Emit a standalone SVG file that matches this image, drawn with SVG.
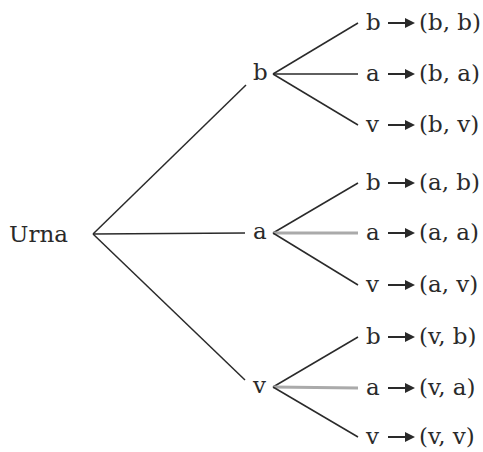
<svg xmlns="http://www.w3.org/2000/svg" width="483" height="452" viewBox="0 0 483 452">
<defs>
<style>
text{font-family:"DejaVu Serif","Liberation Serif",serif;font-size:23px;fill:#2a2a2a}
.e{stroke:#2a2a2a;stroke-width:1.5;fill:none}
.g{stroke:#aaaaaa;stroke-width:3;fill:none}
.ar{stroke:#2a2a2a;stroke-width:2;fill:none}
.ah{fill:#2a2a2a}
</style>
<g id="arw"><path class="ar" d="M0 0H19"/><path class="ah" d="M17 -5L27 0L17 5Z"/></g>
</defs>
<rect width="483" height="452" fill="#ffffff"/>
<g id="connectors">
<path class="e" d="M93 234L246 85"/>
<path class="e" d="M93 234L245 233"/>
<path class="e" d="M93 234L245 380"/>
<path class="e" d="M273 74L358 23"/>
<path class="e" d="M273 74L358 74"/>
<path class="e" d="M273 74L358 125"/>
<path class="e" d="M273 233L358 183"/>
<path class="g" d="M273 233L358 233"/>
<path class="e" d="M273 233L358 285"/>
<path class="e" d="M273 387L358 337"/>
<path class="g" d="M273 387L358 388"/>
<path class="e" d="M273 387L358 437"/>
</g>
<g id="root"><text x="9" y="242">Urna</text></g>
<g id="n-b"><text x="253" y="80">b</text></g>
<g id="n-a"><text x="253" y="239">a</text></g>
<g id="n-v"><text x="253" y="393">v</text></g>
<g id="leaf-bb"><text x="366" y="30">b</text><use href="#arw" x="388" y="23"/><text x="419" y="30">(b, b)</text></g>
<g id="leaf-ba"><text x="366" y="81">a</text><use href="#arw" x="388" y="74"/><text x="419" y="81">(b, a)</text></g>
<g id="leaf-bv"><text x="366" y="132">v</text><use href="#arw" x="388" y="125"/><text x="419" y="132">(b, v)</text></g>
<g id="leaf-ab"><text x="366" y="190">b</text><use href="#arw" x="388" y="183"/><text x="419" y="190">(a, b)</text></g>
<g id="leaf-aa"><text x="366" y="240">a</text><use href="#arw" x="388" y="233"/><text x="419" y="240">(a, a)</text></g>
<g id="leaf-av"><text x="366" y="292">v</text><use href="#arw" x="388" y="285"/><text x="419" y="292">(a, v)</text></g>
<g id="leaf-vb"><text x="366" y="344">b</text><use href="#arw" x="388" y="337"/><text x="419" y="344">(v, b)</text></g>
<g id="leaf-va"><text x="366" y="395">a</text><use href="#arw" x="388" y="388"/><text x="419" y="395">(v, a)</text></g>
<g id="leaf-vv"><text x="366" y="444">v</text><use href="#arw" x="388" y="437"/><text x="419" y="444">(v, v)</text></g>
</svg>
